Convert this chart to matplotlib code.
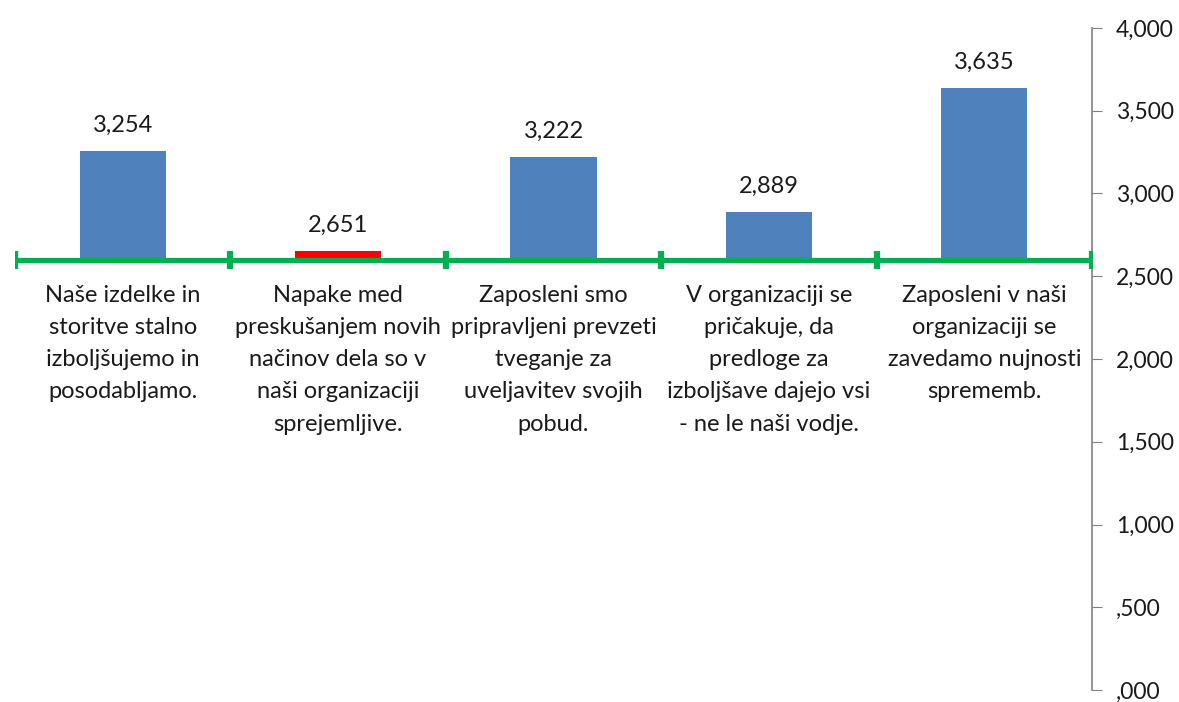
import matplotlib.pyplot as plt
from matplotlib.ticker import FuncFormatter, MultipleLocator

# statements (x axis categories) and mean scores
categories = [
    "Naše izdelke in\nstoritve stalno\nizboljšujemo in\nposodabljamo.",
    "Napake med\npreskušanjem novih\nnačinov dela so v\nnaši organizaciji\nsprejemljive.",
    "Zaposleni smo\npripravljeni prevzeti\ntveganje za\nuveljavitev svojih\npobud.",
    "V organizaciji se\npričakuje, da\npredloge za\nizboljšave dajejo vsi\n- ne le naši vodje.",
    "Zaposleni v naši\norganizaciji se\nzavedamo nujnosti\nsprememb.",
]
values = [3.254, 2.651, 3.222, 2.889, 3.635]
bar_colors = ["#4F81BD", "#FF0000", "#4F81BD", "#4F81BD", "#4F81BD"]
baseline = 2.6


def sl_num(v):
    # Slovenian style: decimal comma, no leading zero
    s = f"{v:.3f}".replace(".", ",")
    if s.startswith("0"):
        s = s[1:]
    return s


plt.rcParams['font.family'] = ['Lato', 'DejaVu Sans']

fig = plt.figure(figsize=(11.79, 7.02), dpi=100)
ax = fig.add_axes([15 / 1179, 12 / 702, (1092 - 15) / 1179, (690 - 28) / 702])

x = list(range(len(values)))
heights = [v - baseline for v in values]
ax.bar(x, heights, bottom=baseline, width=0.4, color=bar_colors, zorder=2)

for xi, v in zip(x, values):
    ax.annotate(sl_num(v), (xi, v), xytext=(0, 18.5), textcoords="offset points",
                ha="center", va="center", fontsize=17, color="#1a1a1a")

# green baseline with category separators
ax.plot([-0.5, len(values) - 0.5], [baseline, baseline], color="#00B050",
        lw=3.8, zorder=3, solid_capstyle="butt")
bounds = [i - 0.5 for i in range(len(values) + 1)]
ax.plot(bounds, [baseline] * len(bounds), ls="none", marker="|",
        ms=13, mew=4.5, color="#00B050", zorder=3)

for xi, cat in zip(x, categories):
    ax.annotate(cat, (xi, baseline), xytext=(0, -18), textcoords="offset points",
                ha="center", va="top", fontsize=17, color="#1a1a1a",
                linespacing=1.66)

ax.set_xlim(-0.5, len(values) - 0.5)
ax.set_ylim(0, 4)
ax.yaxis.set_major_locator(MultipleLocator(0.5))
ax.yaxis.set_major_formatter(FuncFormatter(lambda v, p: sl_num(v)))
ax.yaxis.tick_right()
ax.tick_params(axis="y", direction="out", length=7, color="#808080",
               labelsize=16.5, labelcolor="#1a1a1a", pad=10)
ax.set_xticks([])
for side in ["left", "top", "bottom"]:
    ax.spines[side].set_visible(False)
ax.spines["right"].set_color("#808080")
ax.spines["right"].set_linewidth(1.2)

fig.savefig("out.png", dpi=100)
